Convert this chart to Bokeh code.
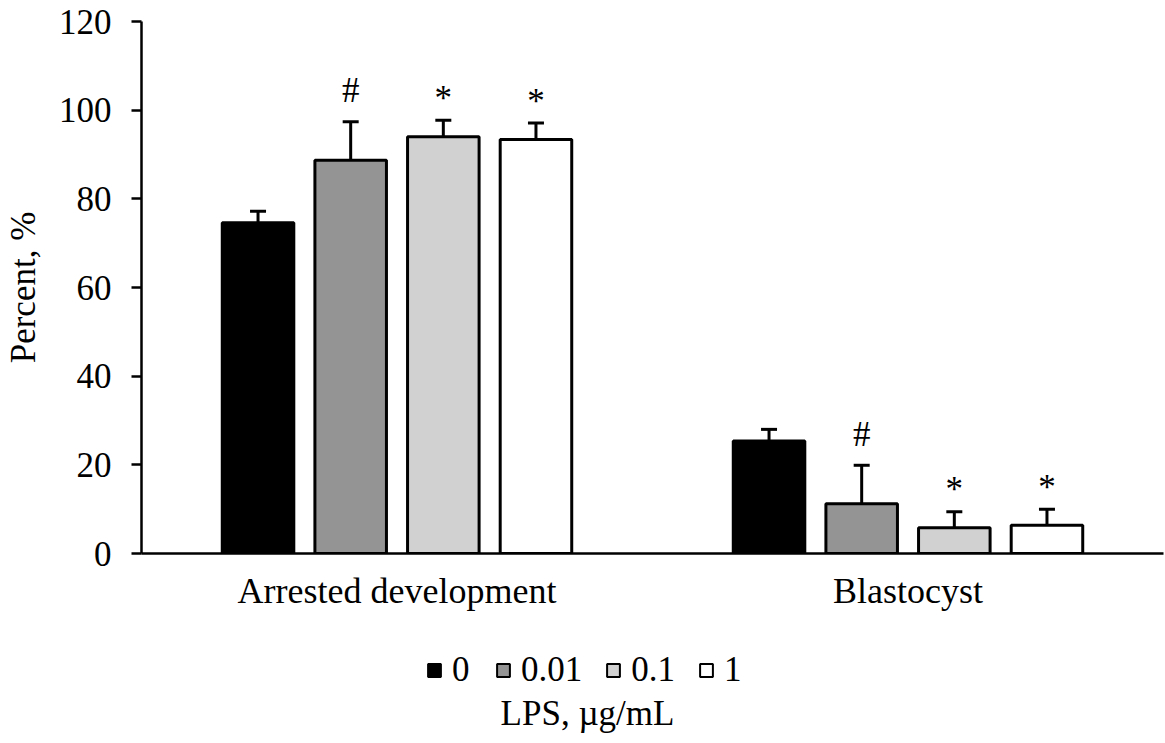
from bokeh.plotting import figure
from bokeh.layouts import column
from bokeh.models import (ColumnDataSource, FactorRange, Range1d, Whisker, TeeHead,
                          Legend, LegendItem, FixedTicker)
from bokeh.transform import dodge
from bokeh.core.properties import value
from bokeh.embed import file_html
from bokeh.resources import INLINE

# ---- data ----
groups = ["Arrested development", "Blastocyst"]
doses = ["0", "0.01", "0.1", "1"]
arrested_mean = [74.6, 88.7, 94.0, 93.4]
arrested_err = [2.6, 8.7, 3.7, 3.7]
blasto_mean = [25.4, 11.2, 5.8, 6.4]
blasto_err = [2.6, 8.7, 3.6, 3.6]
signif = ["", "#", "*", "*"]
y_ticks = [0, 20, 40, 60, 80, 100, 120]
legend_title = "LPS, \u00b5g/mL"

colors = ["#000000", "#949494", "#d1d1d1", "#ffffff"]
FONT = "Liberation Serif"

W = 1165
H1 = 625
H2 = 743 - H1
LEFT = 141
RIGHT = 2

p = figure(x_range=FactorRange(*groups), y_range=Range1d(0, 120),
           width=W, height=H1,
           min_border_left=LEFT, min_border_right=RIGHT, min_border_top=21, min_border_bottom=72,
           output_backend="svg", toolbar_location=None)
p.outline_line_color = None
p.xgrid.grid_line_color = None
p.ygrid.grid_line_color = None

step = 0.1813
width = 0.14
for i, d in enumerate(doses):
    off = (i - 1.5) * step
    means = [arrested_mean[i], blasto_mean[i]]
    errs = [arrested_err[i], blasto_err[i]]
    src = ColumnDataSource(dict(g=groups, m=means, up=[m + e for m, e in zip(means, errs)],
                                s=[signif[i]] * 2))
    p.vbar(x=dodge("g", off, range=p.x_range), top="m", width=width, source=src,
           fill_color=colors[i], line_color="black", line_width=3)
    w = Whisker(base=dodge("g", off, range=p.x_range), lower="m", upper="up", source=src,
                line_color="black", line_width=3,
                upper_head=TeeHead(size=16, line_color="black", line_width=3), lower_head=None)
    p.add_layout(w)
    if signif[i]:
        yoff = 31 if signif[i] == "#" else 22
        p.text(x=dodge("g", off, range=p.x_range), y="up", text="s", source=src,
               text_align="center", text_baseline="alphabetic", y_offset=-yoff,
               text_font=value(FONT), text_font_size="35px", text_color="black")

# axes
ya = p.yaxis[0]
ya.ticker = FixedTicker(ticks=y_ticks)
ya.axis_line_width = 2.5
ya.major_tick_line_width = 2.5
ya.major_tick_out = 10
ya.major_tick_in = 0
ya.minor_tick_line_color = None
ya.major_label_text_font = FONT
ya.major_label_text_font_size = "35px"
ya.major_label_text_color = "black"
ya.major_label_standoff = 20
ya.axis_label = "Percent, %"
ya.axis_label_text_font = FONT
ya.axis_label_text_font_size = "35px"
ya.axis_label_text_font_style = "normal"
ya.axis_label_text_color = "black"
ya.axis_label_standoff = 13

xa = p.xaxis[0]
xa.axis_line_width = 2.5
xa.major_tick_line_color = None
xa.major_tick_out = 0
xa.minor_tick_line_color = None
xa.major_label_text_font = FONT
xa.major_label_text_font_size = "36px"
xa.major_label_text_color = "black"
xa.major_label_standoff = 17

# ---- legend strip (frame aligned with the main plot frame: pixels = data units) ----
p2 = figure(width=W, height=H2, x_range=Range1d(LEFT, W - RIGHT), y_range=Range1d(0, H2),
            min_border_left=LEFT, min_border_right=RIGHT, min_border_top=0, min_border_bottom=0,
            output_backend="svg", toolbar_location=None)
p2.axis.visible = False
p2.grid.visible = False
p2.outline_line_color = None

items = []
for i, d in enumerate(doses):
    # zero-size proxy bars, hidden beneath the first (black) legend swatch;
    # they only give the legend swatches their series style
    r = p2.vbar(x=[438], bottom=[72], top=[72], width=0, fill_color=colors[i],
                line_color="black", line_width=2)
    items.append(LegendItem(label=d, renderers=[r]))

legend = Legend(items=items, orientation="horizontal", location=(426 - LEFT, 53),
                glyph_width=16, glyph_height=16, label_standoff=10, spacing=23,
                label_text_font=FONT, label_text_font_size="35px", label_text_color="black",
                border_line_color=None, background_fill_alpha=0, padding=4, margin=0)
p2.add_layout(legend, "center")

p2.text(x=[587], y=[30], text=[legend_title], text_align="center", text_baseline="middle",
        text_font=value(FONT), text_font_size="35px", text_color="black")

open("out.html", "w").write(file_html(column(p, p2, spacing=0), INLINE))
